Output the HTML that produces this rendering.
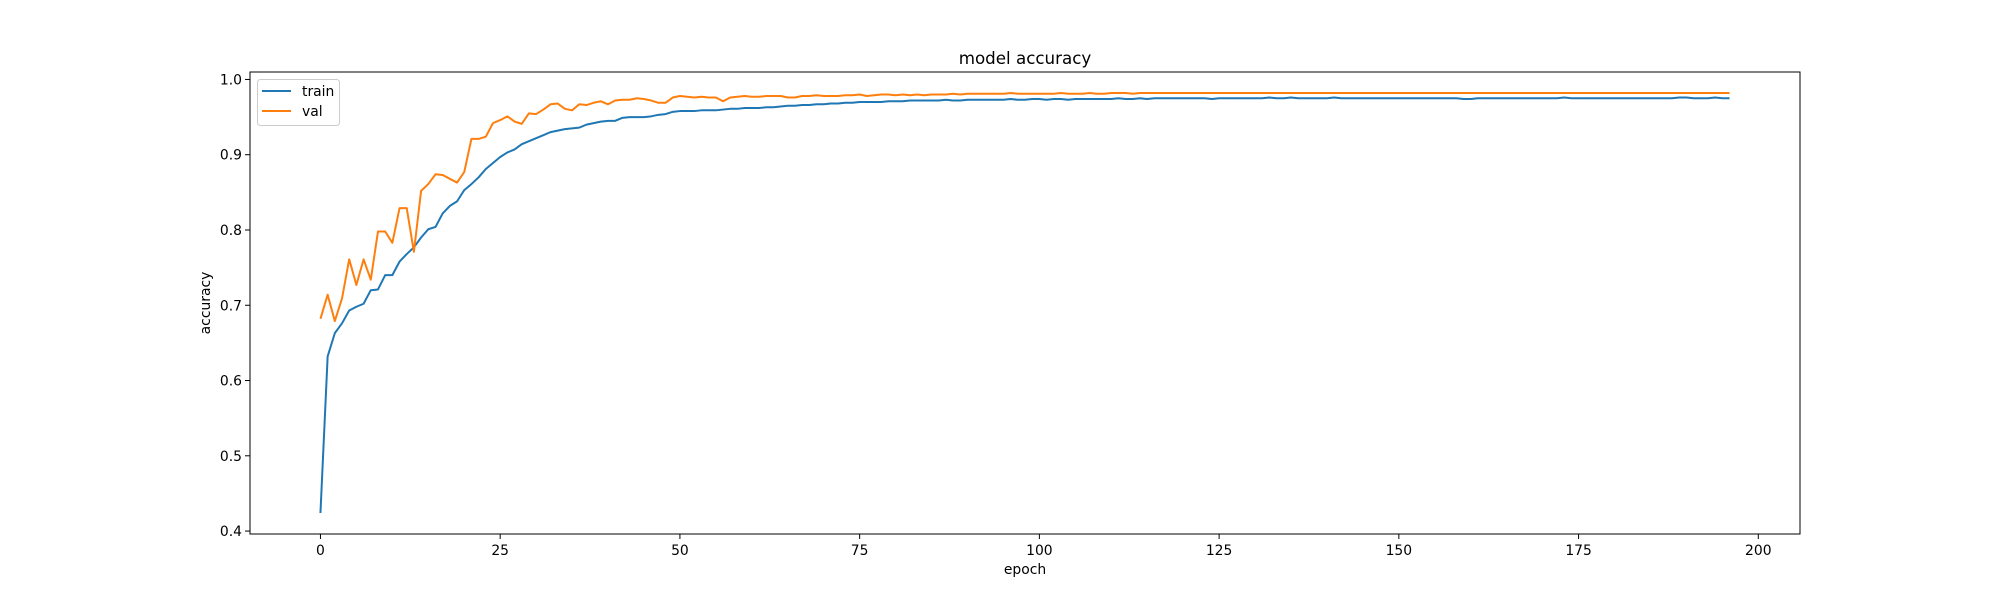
<!DOCTYPE html>
<html><head><meta charset="utf-8"><style>
html,body{margin:0;padding:0;background:#fff;}
svg{display:block;font-family:"DejaVu Sans","Liberation Sans",sans-serif;}
</style></head><body>
<svg id="chart" width="2000" height="600" viewBox="0 0 2000 600" xmlns="http://www.w3.org/2000/svg">
<rect x="0" y="0" width="2000" height="600" fill="#fff"/>
<text x="1025" y="64" font-size="16.7" text-anchor="middle">model accuracy</text>
<g id="plot"></g>
<rect x="250" y="72" width="1550" height="462" fill="none" stroke="#000" stroke-width="1"/>
<g id="ticks"></g>
<text x="1025" y="574" font-size="13.9" text-anchor="middle">epoch</text>
<text x="0" y="0" font-size="13.9" text-anchor="middle" transform="translate(210,303) rotate(-90)">accuracy</text>
<g>
<rect x="257.5" y="79.5" width="82" height="46" rx="3" fill="#fff" fill-opacity="0.8" stroke="#ccc"/>
<line x1="262" y1="91" x2="291" y2="91" stroke="#1f77b4" stroke-width="2"/>
<text x="302" y="96" font-size="13.9">train</text>
<line x1="262" y1="111" x2="291" y2="111" stroke="#ff7f0e" stroke-width="2"/>
<text x="302" y="116" font-size="13.9">val</text>
</g>
</svg>
<script>
const train = [0.424,0.632,0.663,0.676,0.693,0.698,0.702,0.720,0.721,0.740,0.740,0.758,0.768,0.777,0.790,0.801,0.804,0.822,0.832,0.838,0.853,0.861,0.870,0.881,0.889,0.897,0.903,0.907,0.914,0.918,0.922,0.926,0.930,0.932,0.934,0.935,0.936,0.940,0.942,0.944,0.945,0.945,0.949,0.950,0.950,0.950,0.951,0.953,0.954,0.957,0.958,
.958,.958,.959,.959,.959,.960,.961,.961,.962,.962,
.962,.963,.963,.964,.965,.965,.966,.966,.967,.967,
.968,.968,.969,.969,.970,.970,.970,.970,.971,.971,
.971,.972,.972,.972,.972,.972,.973,.972,.972,.973,
.973,.973,.973,.973,.973,.974,.973,.973,.974,.974,
.973,.974,.974,.973,.974,.974,.974,.974,.974,.974,
.975,.974,.974,.975,.974,.975,.975,.975,.975,.975,
.975,.975,.975,.974,.975,.975,.975,.975,.975,.975,
.975,.976,.975,.975,.976,.975,.975,.975,.975,.975,
.976,.975,.975,.975,.975,.975,.975,.975,.975,.975,
.975,.975,.975,.975,.975,.975,.975,.975,.974,.974,
.975,.975,.975,.975,.975,.975,.975,.975,.975,.975,
.975,.975,.976,.975,.975,.975,.975,.975,.975,.975,
.975,.975,.975,.975,.975,.975,.975,.975,.976,.976,
.975,.975,.975,.976,.975,.975];
const val = [0.682,0.714,0.679,0.709,0.761,0.727,0.761,0.734,0.798,0.798,0.783,0.829,0.829,0.771,0.852,0.861,0.874,0.873,0.868,0.863,0.877,0.921,0.921,0.924,0.942,0.946,0.951,0.944,0.941,0.955,0.954,0.960,0.967,0.968,0.961,0.959,0.967,0.966,0.969,0.971,0.967,0.972,0.973,0.973,0.975,0.974,0.972,0.969,0.969,0.976,0.978,
.977,.976,.977,.976,.976,.971,.976,.977,.978,.977,
.977,.978,.978,.978,.976,.976,.978,.978,.979,.978,
.978,.978,.979,.979,.980,.978,.979,.980,.980,.979,
.980,.979,.980,.979,.980,.980,.980,.981,.980,.981,
.981,.981,.981,.981,.981,.982,.981,.981,.981,.981,
.981,.981,.982,.981,.981,.981,.982,.981,.981,.982,
.982,.982,.981,.982,.982,.982,.982,.982,.982,.982,
.982,.982,.982,.982,.982,.982,.982,.982,.982,.982,
.982,.982,.982,.982,.982,.982,.982,.982,.982,.982,
.982,.982,.982,.982,.982,.982,.982,.982,.982,.982,
.982,.982,.982,.982,.982,.982,.982,.982,.982,.982,
.982,.982,.982,.982,.982,.982,.982,.982,.982,.982,
.982,.982,.982,.982,.982,.982,.982,.982,.982,.982,
.982,.982,.982,.982,.982,.982,.982,.982,.982,.982,
.982,.982,.982,.982,.982,.982];
const xTicks = [0,25,50,75,100,125,150,175,200];
const yTicks = [0.4,0.5,0.6,0.7,0.8,0.9,1.0];
const yTickLabels = ["0.4","0.5","0.6","0.7","0.8","0.9","1.0"];

const NS = "http://www.w3.org/2000/svg";
const L = 250, R = 1800, T = 72, B = 534;
const n = Math.max(train.length, val.length);
const xmin = -0.05*(n-1), xmax = (n-1)*1.05;
const all = train.concat(val);
const dmin = Math.min(...all), dmax = Math.max(...all);
const ymin = dmin - 0.05*(dmax-dmin), ymax = dmax + 0.05*(dmax-dmin);
function xs(v){ return L + (v - xmin)/(xmax - xmin)*(R - L); }
function ys(v){ return B - (v - ymin)/(ymax - ymin)*(B - T); }

const plot = document.getElementById('plot');
function drawLine(arr, color, name){
  const p = document.createElementNS(NS, 'polyline');
  p.setAttribute('points', arr.map((v,i)=>xs(i).toFixed(2)+','+ys(v).toFixed(2)).join(' '));
  p.setAttribute('fill','none');
  p.setAttribute('stroke', color);
  p.setAttribute('stroke-width','2');
  p.setAttribute('stroke-linejoin','round');
  
  
  plot.appendChild(p);
}
drawLine(train, '#1f77b4', 'train-line');
drawLine(val, '#ff7f0e', 'val-line');

const tg = document.getElementById('ticks');
xTicks.forEach(t=>{
  const x = xs(t);
  const l = document.createElementNS(NS,'line');
  l.setAttribute('x1',x); l.setAttribute('x2',x); l.setAttribute('y1',B); l.setAttribute('y2',B+5);
  l.setAttribute('stroke','#000');
  
  
  tg.appendChild(l);
  const tx = document.createElementNS(NS,'text');
  tx.setAttribute('x',x); tx.setAttribute('y',B+21); tx.setAttribute('font-size','13.9'); tx.setAttribute('text-anchor','middle');
  tx.textContent = String(t);
  
  
  tg.appendChild(tx);
});
yTicks.forEach((t,i)=>{
  const y = ys(t);
  const l = document.createElementNS(NS,'line');
  l.setAttribute('x1',L-5); l.setAttribute('x2',L); l.setAttribute('y1',y); l.setAttribute('y2',y);
  l.setAttribute('stroke','#000');
  
  
  tg.appendChild(l);
  const tx = document.createElementNS(NS,'text');
  tx.setAttribute('x',L-8); tx.setAttribute('y',y+5); tx.setAttribute('font-size','13.9'); tx.setAttribute('text-anchor','end');
  tx.textContent = yTickLabels[i];
  
  
  tg.appendChild(tx);
});
</script>
</body></html>
